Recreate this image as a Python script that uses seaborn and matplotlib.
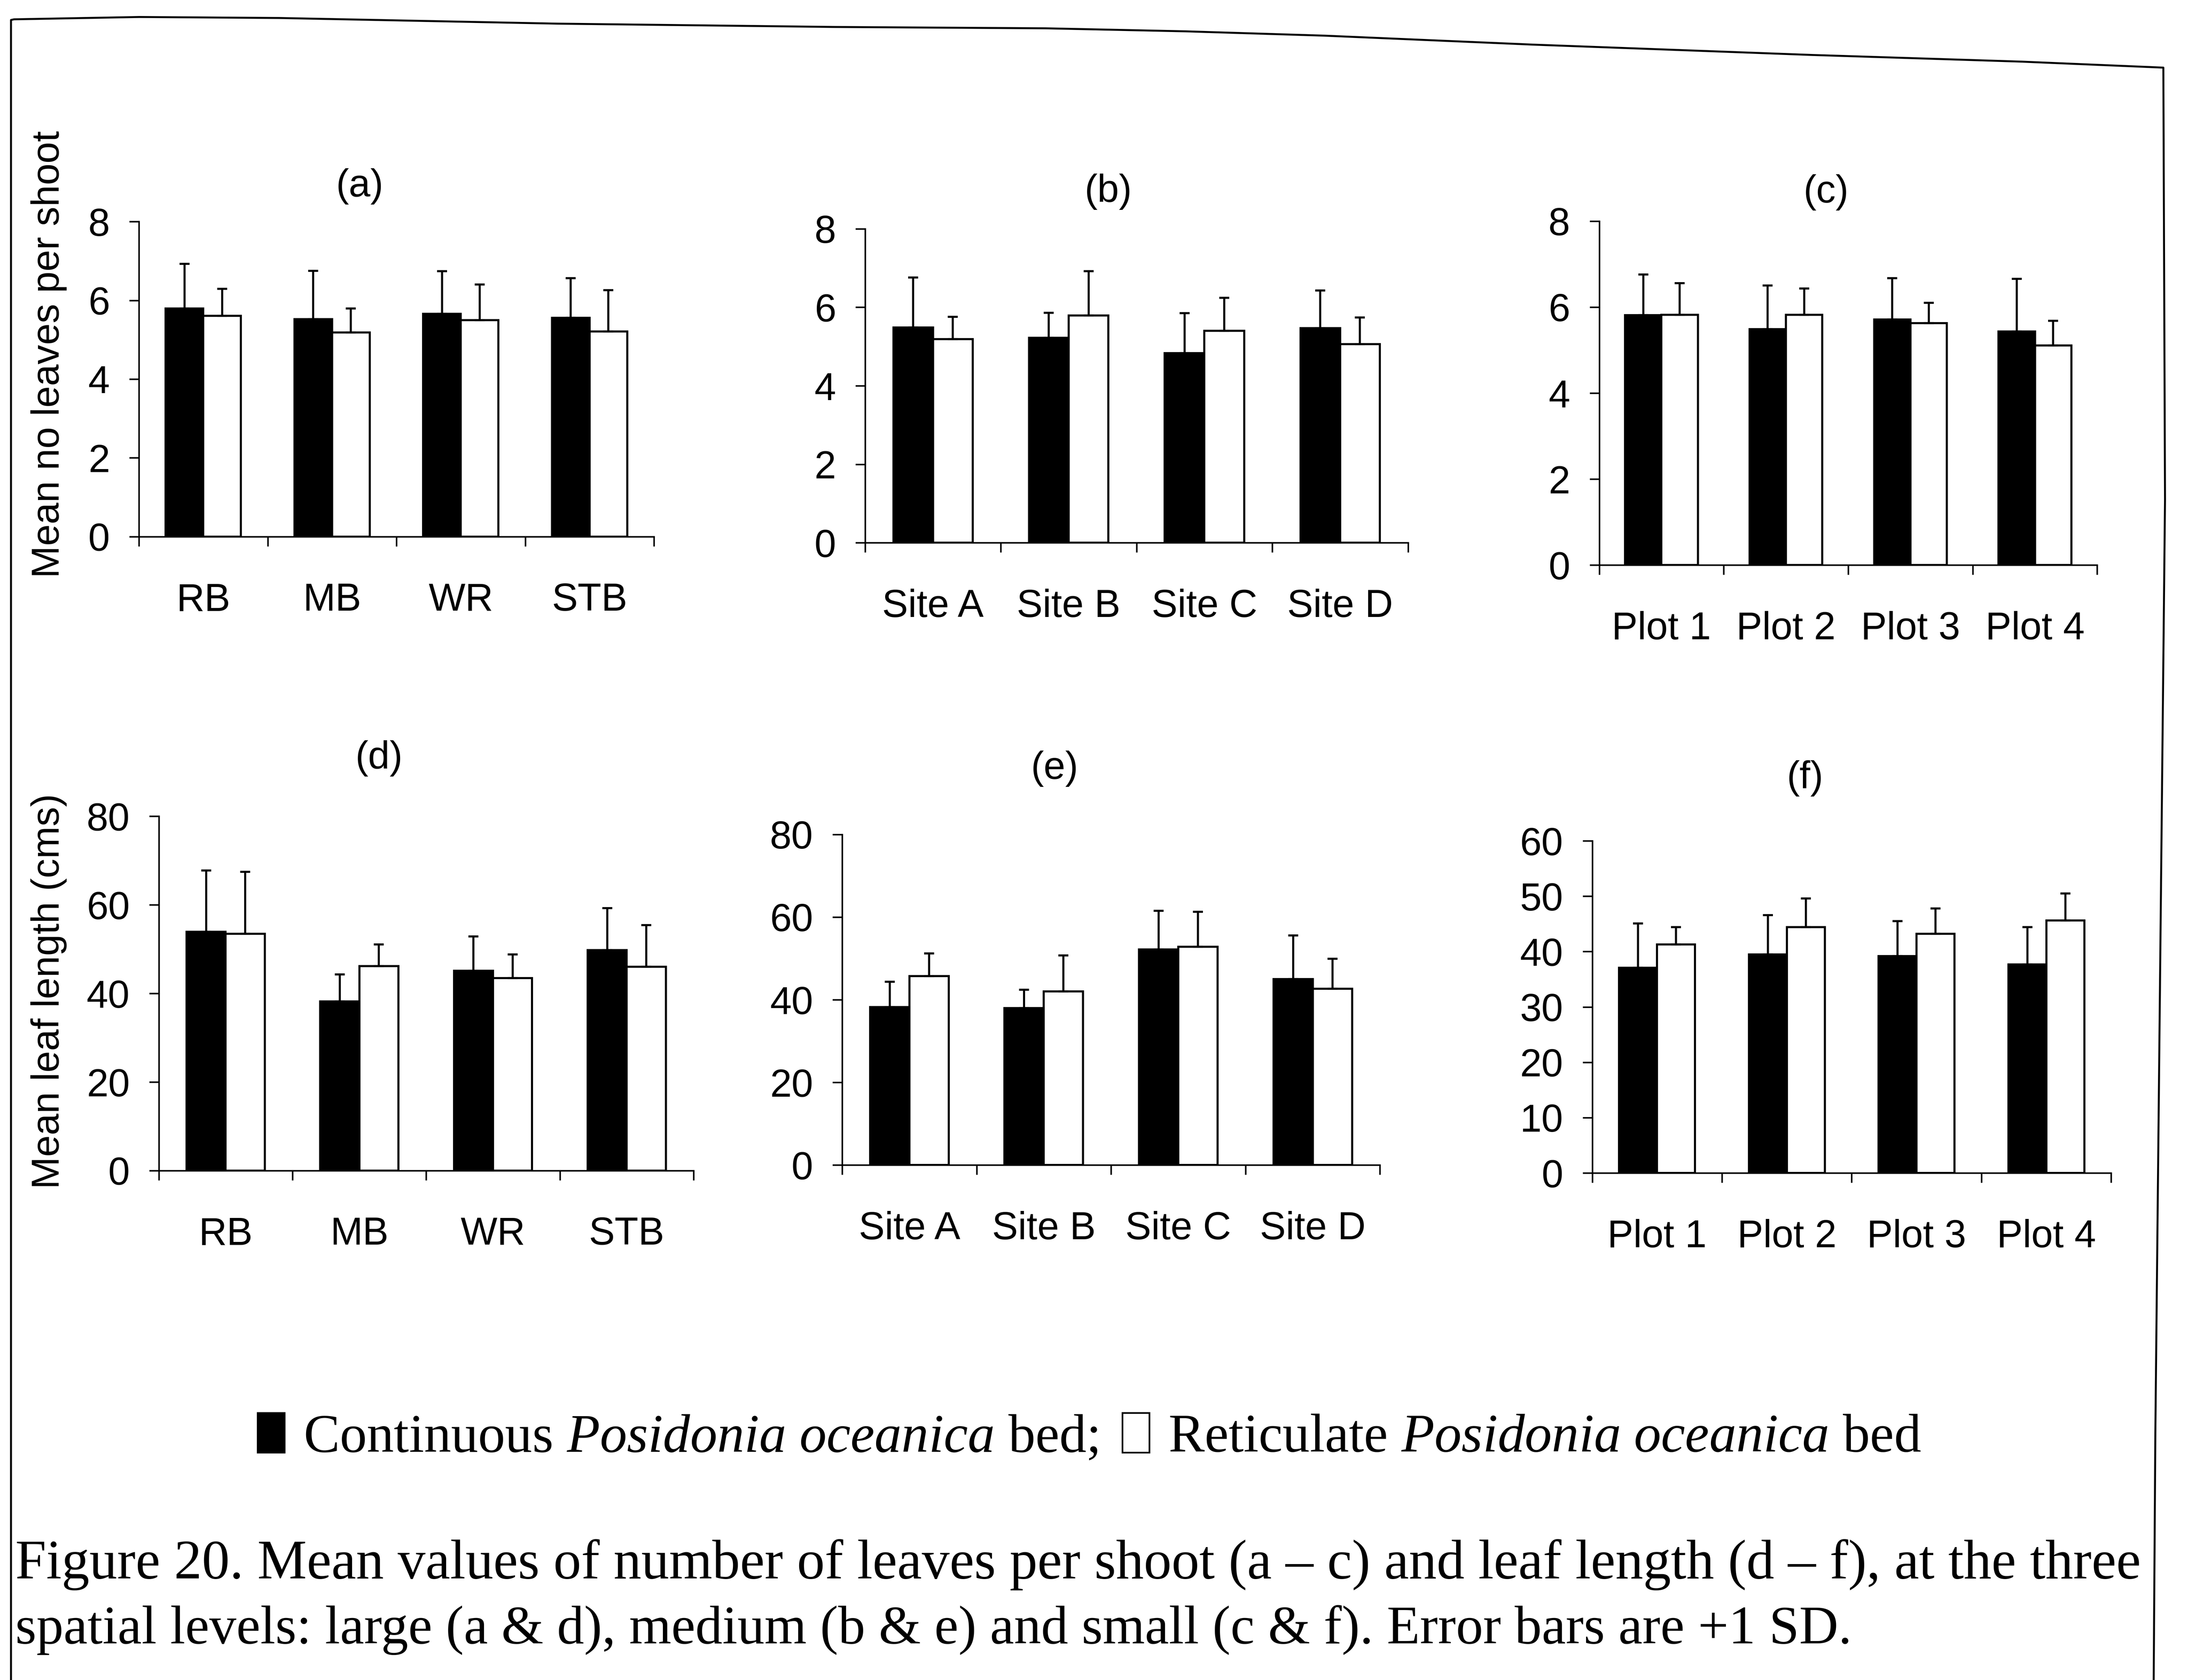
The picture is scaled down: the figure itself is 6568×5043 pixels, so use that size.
import numpy as np
import pandas as pd
import matplotlib
matplotlib.use("Agg")
import matplotlib.pyplot as plt
import seaborn as sns
from matplotlib.lines import Line2D
from matplotlib.patches import Patch

# ---------------- data ----------------
beds = ["Continuous", "Reticulate"]

large_cats = ["RB", "MB", "WR", "STB"]
medium_cats = ["Site A", "Site B", "Site C", "Site D"]
small_cats = ["Plot 1", "Plot 2", "Plot 3", "Plot 4"]

# (a) number of leaves per shoot - large scale
leaves_large_cont = [5.79, 5.52, 5.66, 5.56]
leaves_large_cont_sd = [1.14, 1.23, 1.08, 1.00]
leaves_large_ret = [5.61, 5.18, 5.50, 5.21]
leaves_large_ret_sd = [0.68, 0.61, 0.90, 1.05]

# (b) number of leaves per shoot - medium scale
leaves_medium_cont = [5.49, 5.22, 4.83, 5.47]
leaves_medium_cont_sd = [1.27, 0.64, 1.02, 0.96]
leaves_medium_ret = [5.19, 5.79, 5.40, 5.06]
leaves_medium_ret_sd = [0.57, 1.13, 0.84, 0.68]

# (c) number of leaves per shoot - small scale
leaves_small_cont = [5.81, 5.49, 5.71, 5.43]
leaves_small_cont_sd = [0.95, 1.01, 0.96, 1.23]
leaves_small_ret = [5.82, 5.82, 5.63, 5.11]
leaves_small_ret_sd = [0.74, 0.61, 0.47, 0.57]

# (d) leaf length - large scale
length_large_cont = [53.9, 38.2, 45.1, 49.8]
length_large_cont_sd = [13.9, 6.1, 7.8, 9.5]
length_large_ret = [53.5, 46.2, 43.5, 46.0]
length_large_ret_sd = [14.0, 4.9, 5.3, 9.4]

# (e) leaf length - medium scale
length_medium_cont = [38.2, 38.0, 52.2, 45.0]
length_medium_cont_sd = [6.2, 4.4, 9.3, 10.6]
length_medium_ret = [45.7, 42.0, 52.8, 42.7]
length_medium_ret_sd = [5.5, 8.7, 8.5, 7.2]

# (f) leaf length - small scale
length_small_cont = [37.1, 39.5, 39.2, 37.7]
length_small_cont_sd = [8.0, 7.1, 6.3, 6.7]
length_small_ret = [41.3, 44.4, 43.2, 45.6]
length_small_ret_sd = [3.1, 5.2, 4.6, 4.9]

panel_letters = ["(a)", "(b)", "(c)", "(d)", "(e)", "(f)"]
ylabel_top = "Mean no leaves per shoot"
ylabel_bottom = "Mean leaf length (cms)"
legend_labels = [r"Continuous $\mathit{Posidonia\ oceanica}$ bed;",
                 r"Reticulate $\mathit{Posidonia\ oceanica}$ bed"]
caption_line1 = ("Figure 20. Mean values of number of leaves per shoot (a \u2013 c) "
                 "and leaf length (d \u2013 f), at the three")
caption_line2 = ("spatial levels: large (a & d), medium (b & e) and small (c & f). "
                 "Error bars are +1 SD.")

# ---------------- style ----------------
sns.set_theme(style="ticks")
plt.rcParams["font.family"] = ["Liberation Sans", "DejaVu Sans"]
plt.rcParams["mathtext.fontset"] = "custom"
plt.rcParams["mathtext.it"] = "Liberation Serif:italic"
plt.rcParams["mathtext.rm"] = "Liberation Serif"
plt.rcParams["axes.edgecolor"] = "black"
plt.rcParams["xtick.color"] = "black"
plt.rcParams["ytick.color"] = "black"
plt.rcParams["text.color"] = "black"

FIG_W, FIG_H, DPI = 6568 / 300, 5043 / 300, 300
fig = plt.figure(figsize=(FIG_W, FIG_H), dpi=DPI, facecolor="white")

TICK_SIZE = 28


def panel(rect, cats, cont, cont_sd, ret, ret_sd, ymax, ystep):
    ax = fig.add_axes(rect)
    df = pd.DataFrame({
        "cat": cats + cats,
        "bed": [beds[0]] * len(cats) + [beds[1]] * len(cats),
        "mean": cont + ret,
    })
    sns.barplot(data=df, x="cat", y="mean", hue="bed", order=cats, hue_order=beds,
                palette=["black", "white"], saturation=1, edgecolor="black",
                linewidth=1.5, width=0.585, errorbar=None, legend=False, ax=ax)
    for container, sds in zip(ax.containers, [cont_sd, ret_sd]):
        xs = [b.get_x() + b.get_width() / 2 for b in container]
        ys = [b.get_height() for b in container]
        ax.errorbar(xs, ys, yerr=[np.zeros(len(sds)), sds], fmt="none",
                    ecolor="black", elinewidth=1.5, capsize=3.6, capthick=1.5,
                    zorder=3)
    n = len(cats)
    ax.set_xlim(-0.5, n - 0.5)
    ax.set_ylim(0, ymax)
    ax.set_yticks(np.arange(0, ymax + ystep / 2, ystep))
    ax.set_xticks(np.arange(-0.5, n), minor=True)
    ax.tick_params(axis="x", which="major", length=0, pad=33, labelsize=TICK_SIZE)
    ax.tick_params(axis="x", which="minor", length=7, width=1.1, direction="out")
    ax.tick_params(axis="y", which="major", length=7, width=1.1, direction="out",
                   pad=14, labelsize=TICK_SIZE)
    ax.set_xlabel("")
    ax.set_ylabel("")
    ax.set_facecolor("white")
    sns.despine(ax=ax)
    for s in ("left", "bottom"):
        ax.spines[s].set_linewidth(1.1)
        ax.spines[s].set_color("black")
    return ax


rects = [
    [0.0635, 0.6806, 0.2354, 0.1875],
    [0.3954, 0.6769, 0.2481, 0.1869],
    [0.7309, 0.6636, 0.2276, 0.2048],
    [0.0726, 0.3032, 0.2444, 0.2109],
    [0.3849, 0.3065, 0.2458, 0.1968],
    [0.7277, 0.3018, 0.2372, 0.1977],
]

panel(rects[0], large_cats, leaves_large_cont, leaves_large_cont_sd,
      leaves_large_ret, leaves_large_ret_sd, 8, 2)
panel(rects[1], medium_cats, leaves_medium_cont, leaves_medium_cont_sd,
      leaves_medium_ret, leaves_medium_ret_sd, 8, 2)
panel(rects[2], small_cats, leaves_small_cont, leaves_small_cont_sd,
      leaves_small_ret, leaves_small_ret_sd, 8, 2)
panel(rects[3], large_cats, length_large_cont, length_large_cont_sd,
      length_large_ret, length_large_ret_sd, 80, 20)
panel(rects[4], medium_cats, length_medium_cont, length_medium_cont_sd,
      length_medium_ret, length_medium_ret_sd, 80, 20)
panel(rects[5], small_cats, length_small_cont, length_small_cont_sd,
      length_small_ret, length_small_ret_sd, 60, 10)

# panel letters
title_pos = [(0.1645, 0.889), (0.5065, 0.8858), (0.8346, 0.8855),
             (0.1732, 0.5485), (0.482, 0.5424), (0.825, 0.5366)]
for (tx, ty), lab in zip(title_pos, panel_letters):
    fig.text(tx, ty, lab, ha="center", va="center", fontsize=28)

# y labels
fig.text(0.0223, 0.789, ylabel_top, rotation=90, ha="center", va="center", fontsize=28)
fig.text(0.0223, 0.410, ylabel_bottom, rotation=90, ha="center", va="center", fontsize=28)

# legend
handles = [Patch(facecolor="black", edgecolor="black", linewidth=1.2),
           Patch(facecolor="white", edgecolor="black", linewidth=1.2)]
fig.legend(handles, legend_labels, ncol=2, loc="center",
           bbox_to_anchor=(0.4978, 0.144), frameon=False,
           prop={"family": "Liberation Serif", "size": 39},
           handlelength=0.5, handleheight=0.75, handletextpad=0.35,
           columnspacing=0.45)

# caption
fig.text(0.0070, 0.0605, caption_line1, family="Liberation Serif", fontsize=40,
         ha="left", va="baseline")
fig.text(0.0070, 0.0218, caption_line2, family="Liberation Serif", fontsize=39,
         ha="left", va="baseline")

# scanned page frame
frame_x = [33, 33, 42, 418, 837, 1674, 2511, 3139, 3557, 3975, 4603, 5440, 6068, 6494, 6499, 6470, 6465]
frame_y = [5043, 60, 58, 51, 54, 71, 81, 85, 94, 107, 134, 165, 185, 203, 1500, 4300, 5043]
fig.add_artist(Line2D([x / 6568 for x in frame_x], [1 - y / 5043 for y in frame_y],
                      transform=fig.transFigure, color="black", lw=1.4))

fig.savefig("out.png", dpi=DPI, facecolor="white")
